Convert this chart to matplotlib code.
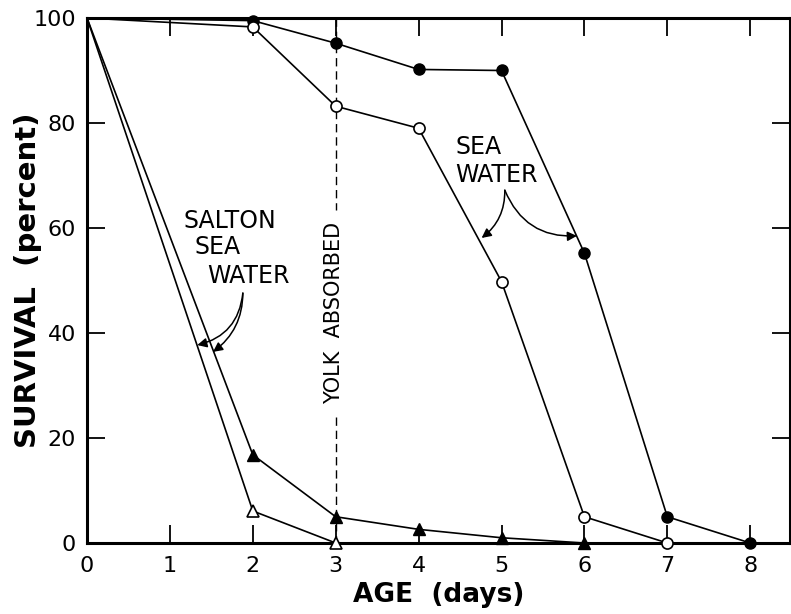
import matplotlib
matplotlib.use("Agg")
import matplotlib.pyplot as plt

plt.rcParams['font.family'] = ['DejaVu Sans']

# Data
days_sea_filled = [0, 2, 3, 4, 5, 6, 7, 8]
surv_sea_filled = [100, 99.5, 95.2, 90.2, 90, 55.2, 5, 0]
days_sea_open = [0, 2, 3, 4, 5, 6, 7]
surv_sea_open = [100, 98.3, 83.2, 79, 49.8, 5, 0]
days_salton_filled = [0, 2, 3, 4, 5, 6]
surv_salton_filled = [100, 16.8, 5, 2.6, 1, 0]
days_salton_open = [0, 2, 3]
surv_salton_open = [100, 6.1, 0]

xticks = [0, 1, 2, 3, 4, 5, 6, 7, 8]
xticklabels = ['0', '1', '2', '3', '4', '5', '6', '7', '8']
yticks = [0, 20, 40, 60, 80, 100]
yticklabels = ['0', '20', '40', '60', '80', '100']

fig = plt.figure(figsize=(7.91, 6.14), dpi=100)
ax = fig.add_axes([87/791, 1 - 543/614, (790 - 87)/791, (543 - 18)/614])

lw = 1.2
ms = 8
mk = slice(1, None)
ax.plot(days_sea_filled, surv_sea_filled, color='black', lw=lw, marker='o', ms=ms,
        mfc='black', mec='black', markevery=mk, clip_on=False, zorder=5)
ax.plot(days_sea_open, surv_sea_open, color='black', lw=lw, marker='o', ms=ms,
        mfc='white', mec='black', mew=1.2, markevery=mk, clip_on=False, zorder=5)
ax.plot(days_salton_filled, surv_salton_filled, color='black', lw=lw, marker='^', ms=ms,
        mfc='black', mec='black', markevery=mk, clip_on=False, zorder=5)
ax.plot(days_salton_open, surv_salton_open, color='black', lw=lw, marker='^', ms=ms,
        mfc='white', mec='black', mew=1.2, markevery=mk, clip_on=False, zorder=5)

# Yolk absorbed dashed line with text gap
ax.plot([3, 3], [100, 63.5], color='black', lw=1.0, ls=(0, (6, 3.5)), zorder=2)
ax.plot([3, 3], [24.0, 0], color='black', lw=1.0, ls=(0, (6, 3.5)), zorder=2)
ax.text(2.98, 43.8, 'YOLK  ABSORBED', rotation=90, ha='center', va='center', fontsize=15)

# Salton sea water annotation
tfs = 17
ax.text(1.16, 61.4, 'SALTON', ha='left', va='center', fontsize=tfs)
ax.text(1.30, 56.4, 'SEA', ha='left', va='center', fontsize=tfs)
ax.text(1.45, 50.9, 'WATER', ha='left', va='center', fontsize=tfs)
ax.annotate('', xy=(1.33, 37.7), xytext=(1.88, 47.6),
            arrowprops=dict(arrowstyle='-|>', color='black', lw=1.1,
                            connectionstyle='arc3,rad=-0.35', mutation_scale=14,
                            shrinkA=0, shrinkB=0))
ax.annotate('', xy=(1.52, 36.4), xytext=(1.88, 47.6),
            arrowprops=dict(arrowstyle='-|>', color='black', lw=1.1,
                            connectionstyle='arc3,rad=-0.25', mutation_scale=14,
                            shrinkA=0, shrinkB=0))

# Sea water annotation
ax.text(4.44, 75.4, 'SEA', ha='left', va='center', fontsize=tfs)
ax.text(4.44, 70.0, 'WATER', ha='left', va='center', fontsize=tfs)
ax.annotate('', xy=(4.76, 58.1), xytext=(5.04, 67.2),
            arrowprops=dict(arrowstyle='-|>', color='black', lw=1.1,
                            connectionstyle='arc3,rad=-0.25', mutation_scale=14,
                            shrinkA=0, shrinkB=0))
ax.annotate('', xy=(5.91, 58.5), xytext=(5.04, 67.2),
            arrowprops=dict(arrowstyle='-|>', color='black', lw=1.1,
                            connectionstyle='arc3,rad=0.35', mutation_scale=14,
                            shrinkA=0, shrinkB=0))

ax.set_xlim(0, 8.48)
ax.set_ylim(0, 100)
ax.set_xticks(xticks)
ax.set_xticklabels(xticklabels, fontsize=16)
ax.set_yticks(yticks)
ax.set_yticklabels(yticklabels, fontsize=16)
ax.tick_params(axis='both', direction='in', length=13, width=1.3, top=True, right=True)
ax.tick_params(axis='x', pad=9)
ax.tick_params(axis='y', pad=8)
for s in ax.spines.values():
    s.set_linewidth(2.2)

ax.set_xlabel('AGE  (days)', fontsize=19, fontweight='bold')
ax.set_ylabel('SURVIVAL  (percent)', fontsize=21, fontweight='bold')
ax.xaxis.set_label_coords(0.5, (543 - 582) / 525)
ax.yaxis.set_label_coords((42 - 87) / 703, 0.5)

fig.savefig('out.png', dpi=100)
